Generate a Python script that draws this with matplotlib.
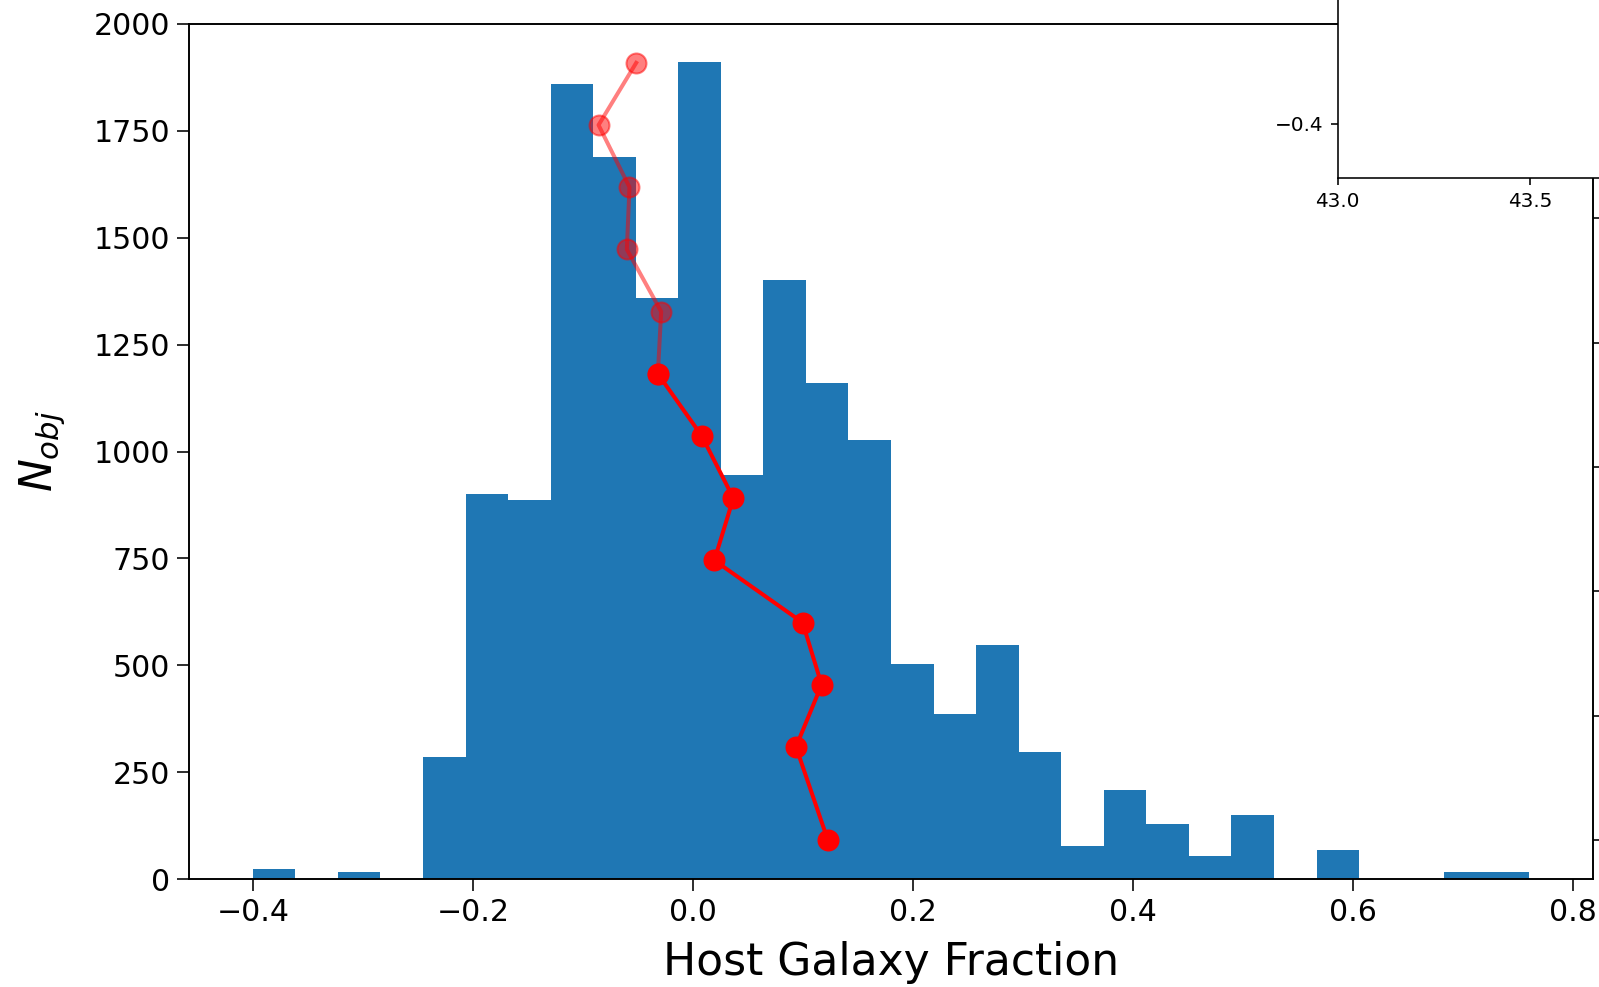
import matplotlib
matplotlib.use('Agg')
import matplotlib.pyplot as plt
import numpy as np

# host fraction histogram: 30 bins between -0.4 and 0.76
bin_lo = -0.4
bin_hi = 0.76
n_bins = 30
counts = [24, 0, 17, 0, 285, 901, 886, 1859, 1690, 1358,
          1911, 945, 1401, 1160, 1027, 504, 385, 547, 298, 77,
          209, 128, 55, 150, 0, 68, 0, 0, 16, 16]

# median host fraction per luminosity bin (right axis)
frac_med = [-0.0516, -0.0858, -0.0577, -0.0601, -0.0289, -0.0319, 0.0080,
            0.0367, 0.0194, 0.0996, 0.1169, 0.0936, 0.1226]
lum_bin = [45.625, 45.375, 45.125, 44.875, 44.625, 44.375, 44.125,
           43.875, 43.625, 43.375, 43.125, 42.875, 42.5]
n_faint = 6  # first bins drawn faded

edges = np.linspace(bin_lo, bin_hi, n_bins + 1)
centers = 0.5 * (edges[1:] + edges[:-1])

fig = plt.figure(figsize=(1599 / 144, 987 / 144), dpi=144)
ax = fig.add_axes([0.1182, 0.1094, 0.8781, 0.8663])

ax.hist(centers, bins=edges, weights=counts)
ax.set_ylim(0, 2000)
ax.set_xlabel('Host Galaxy Fraction', fontsize=22, labelpad=7)
ax.set_ylabel(r'$N_{obj}$', fontsize=22, labelpad=13)
ax.tick_params(labelsize=15, length=6)

ax2 = ax.twinx()
ax2.plot(frac_med[:n_faint], lum_bin[:n_faint], 'ro-', ms=10, lw=2, alpha=0.5)
ax2.plot(frac_med[n_faint - 1:], lum_bin[n_faint - 1:], 'ro-', ms=10, lw=2)
ax2.tick_params(labelright=False)

# small panel in the upper right corner
axin = fig.add_axes([0.8366, 0.8200, 0.2266, 0.332])
axin.set_xlim(43.0, 43.942)
axin.set_ylim(-0.45, -0.145)
axin.set_xticks([43.0, 43.5])
axin.set_yticks([-0.4])

fig.savefig('out.png', dpi=144)
